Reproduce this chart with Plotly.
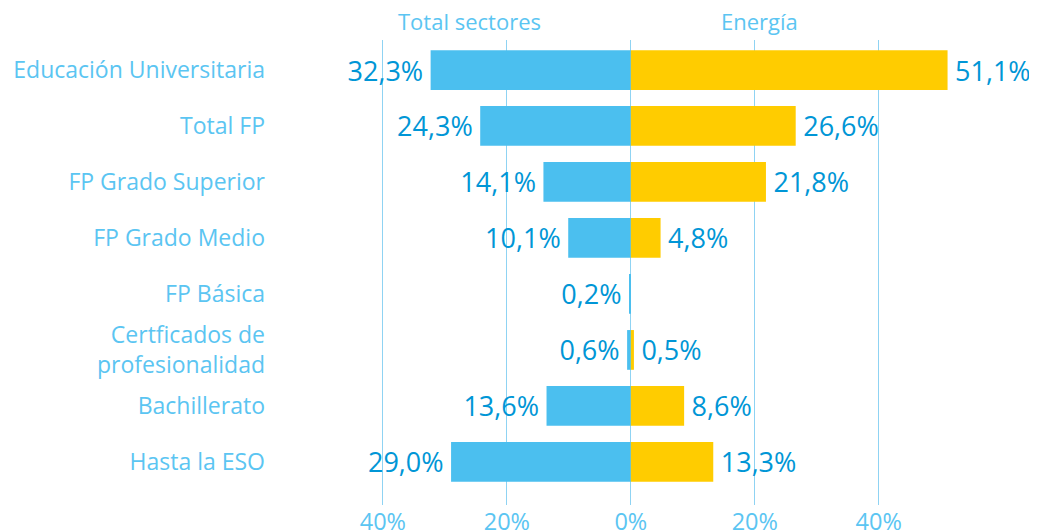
import plotly.graph_objects as go

categories = ["Educación Universitaria", "Total FP", "FP Grado Superior", "FP Grado Medio",
              "FP Básica", "Certficados de<br>profesionalidad", "Bachillerato", "Hasta la ESO"]
total_sectores = [32.3, 24.3, 14.1, 10.1, 0.2, 0.6, 13.6, 29.0]
energia = [51.1, 26.6, 21.8, 4.8, 0.0, 0.5, 8.6, 13.3]
tick_vals = [-40, -20, 0, 20, 40]
tick_text = ["40%", "20%", "0%", "20%", "40%"]
series_names = ["Total sectores", "Energía"]

BLUE = "#4bbfef"
YELLOW = "#ffcc00"
LABEL = "#0096d6"
LIGHT = "#5bc5f2"
GRID = "#8fd3f3"
FONT = "Open Sans"
SP = "\u2009"

def fmt(v, left):
    if v <= 0:
        return ""
    s = ("%.1f" % v).replace(".", ",") + "%"
    return s + SP if left else SP + s

ypos = list(range(len(categories)))

fig = go.Figure()
fig.add_trace(go.Bar(
    y=ypos, x=[-v for v in total_sectores], orientation="h", marker_color=BLUE,
    marker_line_width=0, width=0.71, name=series_names[0],
    text=[fmt(v, True) for v in total_sectores], textposition="outside",
    textfont=dict(family=FONT, size=27, color=LABEL), cliponaxis=False,
    constraintext="none"))
fig.add_trace(go.Bar(
    y=ypos, x=energia, orientation="h", marker_color=YELLOW,
    marker_line_width=0, width=0.71, name=series_names[1],
    text=[fmt(v, False) for v in energia], textposition="outside",
    textfont=dict(family=FONT, size=27, color=LABEL), cliponaxis=False,
    constraintext="none"))

fig.update_layout(
    width=1029, height=523, barmode="relative", showlegend=False,
    plot_bgcolor="white", paper_bgcolor="white",
    margin=dict(l=272, r=7, t=32, b=26),
    font=dict(family=FONT, color=LIGHT),
    xaxis=dict(range=[-56.6, 64.4], tickvals=tick_vals, ticktext=tick_text,
               showgrid=True, gridcolor=GRID, gridwidth=1.2, zeroline=False,
               tickfont=dict(size=23.5, color=LIGHT), ticks="", showline=False,
               automargin=False, fixedrange=True),
    yaxis=dict(range=[7.77, -0.536], tickvals=ypos, ticktext=categories,
               showgrid=False, zeroline=False, showline=False,
               tickfont=dict(size=23, color=LIGHT), ticklabelstandoff=14,
               automargin=False, fixedrange=True),
)

fig.add_annotation(x=-26, y=1.0, xref="x", yref="paper", yanchor="bottom",
                   text=series_names[0], showarrow=False, yshift=2,
                   font=dict(family=FONT, size=22, color=LIGHT))
fig.add_annotation(x=20.8, y=1.0, xref="x", yref="paper", yanchor="bottom",
                   text=series_names[1], showarrow=False, yshift=2,
                   font=dict(family=FONT, size=22, color=LIGHT))

fig.write_html("out.html")
